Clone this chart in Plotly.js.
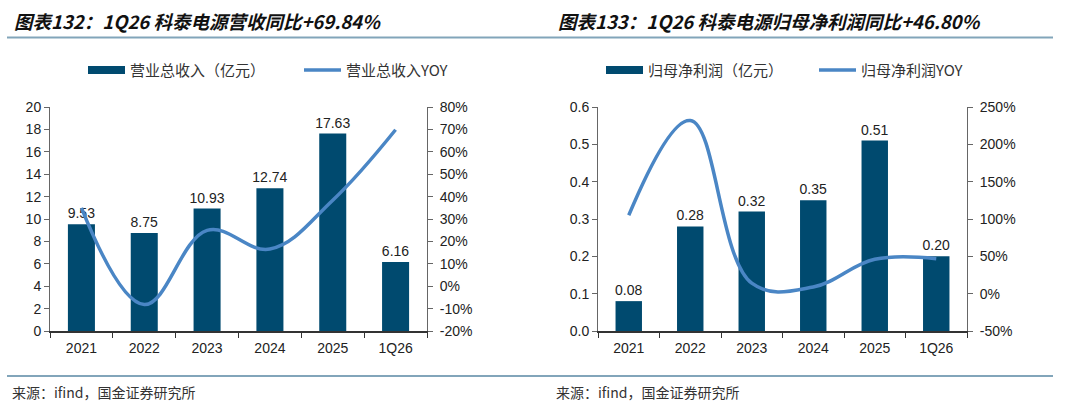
<!DOCTYPE html>
<html>
<head>
<meta charset="utf-8">
<script src="https://cdn.plot.ly/plotly-3.0.1.min.js"></script>
<style>
  html, body { margin: 0; padding: 0; background: #fff; }
  #chart { width: 1080px; height: 408px; }
</style>
</head>
<body>
<div id="chart"></div>
<script>
// categories shared by both charts
var cats = ['2021', '2022', '2023', '2024', '2025', '1Q26'];

// left: revenue (亿元) and its yoy
var revenue = [9.53, 8.75, 10.93, 12.74, 17.63, 6.16];
var revenueYoy = [0.35, -0.082, 0.249, 0.166, 0.384, 0.6984];

// right: net profit attributable (亿元) and its yoy
var netProfit = [0.08, 0.28, 0.32, 0.35, 0.51, 0.20];
var netProfitYoy = [1.05, 2.32, 0.14, 0.09, 0.46, 0.468];

// percent tick labels (plain hyphen, as in the original)
var revYoyTicks = [-0.2, -0.1, 0, 0.1, 0.2, 0.3, 0.4, 0.5, 0.6, 0.7, 0.8];
var revYoyText = ['-20%', '-10%', '0%', '10%', '20%', '30%', '40%', '50%', '60%', '70%', '80%'];
var npYoyTicks = [-0.5, 0, 0.5, 1, 1.5, 2, 2.5];
var npYoyText = ['-50%', '0%', '50%', '100%', '150%', '200%', '250%'];

var barColor = '#004A6F';
var lineColor = '#4A86C5';
var sepColor = '#82A5BA';
var tickFont = {family: 'Liberation Sans, Arial', size: 14, color: '#222'};
var cnFont = 'Noto Sans CJK SC';

var revBars = {
  x: cats, y: revenue, type: 'bar', name: '营业总收入（亿元）',
  xaxis: 'x', yaxis: 'y', width: 0.43,
  marker: {color: barColor},
  text: revenue.map(function (v) { return v.toFixed(2); }),
  textposition: 'outside', cliponaxis: false, constraintext: 'none',
  textfont: tickFont
};

var revLine = {
  x: cats, y: revenueYoy, type: 'scatter', mode: 'lines', name: '营业总收入YOY',
  xaxis: 'x', yaxis: 'y2',
  line: {color: lineColor, width: 3.5, shape: 'spline', smoothing: 1.1}
};

var npBars = {
  x: cats, y: netProfit, type: 'bar', name: '归母净利润（亿元）',
  xaxis: 'x2', yaxis: 'y3', width: 0.43,
  marker: {color: barColor},
  text: netProfit.map(function (v) { return v.toFixed(2); }),
  textposition: 'outside', cliponaxis: false, constraintext: 'none',
  textfont: tickFont
};

var npLine = {
  x: cats, y: netProfitYoy, type: 'scatter', mode: 'lines', name: '归母净利润YOY',
  xaxis: 'x2', yaxis: 'y4',
  line: {color: lineColor, width: 3.5, shape: 'spline', smoothing: 1.1}
};

var data = [revBars, revLine, npBars, npLine];

var yDom = [(408 - 331) / 408, (408 - 107) / 408];

function px(v) { return v / 1080; }
function py(v) { return (408 - v) / 408; }

function xAx(d0, d1, anchor) {
  return {
    domain: [px(d0), px(d1)], anchor: anchor, type: 'category',
    showline: true, linecolor: '#333', linewidth: 1.5,
    ticks: 'outside', ticklen: 5, tickcolor: '#333', tickson: 'boundaries',
    ticklabelstandoff: 4,
    tickfont: tickFont, showgrid: false, fixedrange: true
  };
}

function yAx(range, dtick, fmt, side, anchor, overlay) {
  var ax = {
    domain: yDom, range: range, dtick: dtick, tickformat: fmt,
    side: side, anchor: anchor,
    showline: true, linecolor: '#666', linewidth: 1,
    ticks: 'outside', ticklen: 5, tickcolor: '#666',
    tickfont: tickFont, showgrid: false, zeroline: false, fixedrange: true
  };
  if (side === 'right') ax.ticklabelstandoff = 4;
  if (overlay) ax.overlaying = overlay;
  return ax;
}

// hand-drawn legends, so the bar key can be a wide block like the original
function legendKeys(x0, labelBar, x1, labelLine) {
  return {
    shapes: [
      {type: 'rect', xref: 'paper', yref: 'paper', x0: px(x0), x1: px(x0 + 37),
        y0: py(74), y1: py(66), fillcolor: barColor, line: {width: 0}},
      {type: 'line', xref: 'paper', yref: 'paper', x0: px(x1), x1: px(x1 + 37),
        y0: py(70), y1: py(70), line: {color: lineColor, width: 3.5}}
    ],
    annotations: [
      {xref: 'paper', yref: 'paper', x: px(x0 + 40), y: py(70), xanchor: 'left', yanchor: 'middle',
        showarrow: false, text: labelBar, font: {family: cnFont, size: 15, color: '#333'}},
      {xref: 'paper', yref: 'paper', x: px(x1 + 40), y: py(70), xanchor: 'left', yanchor: 'middle',
        showarrow: false, text: labelLine, font: {family: cnFont, size: 15, color: '#333'}}
    ]
  };
}

var legL = legendKeys(88, revBars.name, 304, revLine.name);
var legR = legendKeys(606, npBars.name, 819, npLine.name);

var y2 = yAx([-0.2, 0.8], null, '', 'right', 'x', 'y');
y2.tickvals = revYoyTicks;
y2.ticktext = revYoyText;
var y4 = yAx([-0.5, 2.5], null, '', 'right', 'x2', 'y3');
y4.tickvals = npYoyTicks;
y4.ticktext = npYoyText;

var layout = {
  width: 1080, height: 408,
  margin: {l: 0, r: 0, t: 0, b: 0},
  paper_bgcolor: '#fff', plot_bgcolor: '#fff',
  showlegend: false,
  xaxis: xAx(50, 427, 'y'),
  yaxis: yAx([0, 20], 2, '', 'left', 'x'),
  yaxis2: y2,
  xaxis2: xAx(598, 967, 'y3'),
  yaxis3: yAx([0, 0.6], 0.1, '.1f', 'left', 'x2'),
  yaxis4: y4,
  shapes: [
    {type: 'line', xref: 'paper', yref: 'paper', x0: px(7), x1: px(1053),
      y0: py(37.5), y1: py(37.5), line: {color: sepColor, width: 2}},
    {type: 'line', xref: 'paper', yref: 'paper', x0: px(7), x1: px(1053),
      y0: py(376), y1: py(376), line: {color: sepColor, width: 2}}
  ].concat(legL.shapes, legR.shapes),
  annotations: [
    {xref: 'paper', yref: 'paper', x: px(12), y: py(21), xanchor: 'left', yanchor: 'middle',
      showarrow: false, text: '<b><i>图表132：1Q26 科泰电源营收同比+69.84%</i></b>',
      font: {family: cnFont, size: 18.5, color: '#111'}},
    {xref: 'paper', yref: 'paper', x: px(556), y: py(21), xanchor: 'left', yanchor: 'middle',
      showarrow: false, text: '<b><i>图表133：1Q26 科泰电源归母净利润同比+46.80%</i></b>',
      font: {family: cnFont, size: 18.5, color: '#111'}},
    {xref: 'paper', yref: 'paper', x: px(10), y: py(392), xanchor: 'left', yanchor: 'middle',
      showarrow: false, text: '来源：ifind，国金证券研究所',
      font: {family: cnFont, size: 14, color: '#333'}},
    {xref: 'paper', yref: 'paper', x: px(554), y: py(392), xanchor: 'left', yanchor: 'middle',
      showarrow: false, text: '来源：ifind，国金证券研究所',
      font: {family: cnFont, size: 14, color: '#333'}}
  ].concat(legL.annotations, legR.annotations)
};

Plotly.newPlot('chart', data, layout, {displayModeBar: false, staticPlot: true});
</script>
</body>
</html>
